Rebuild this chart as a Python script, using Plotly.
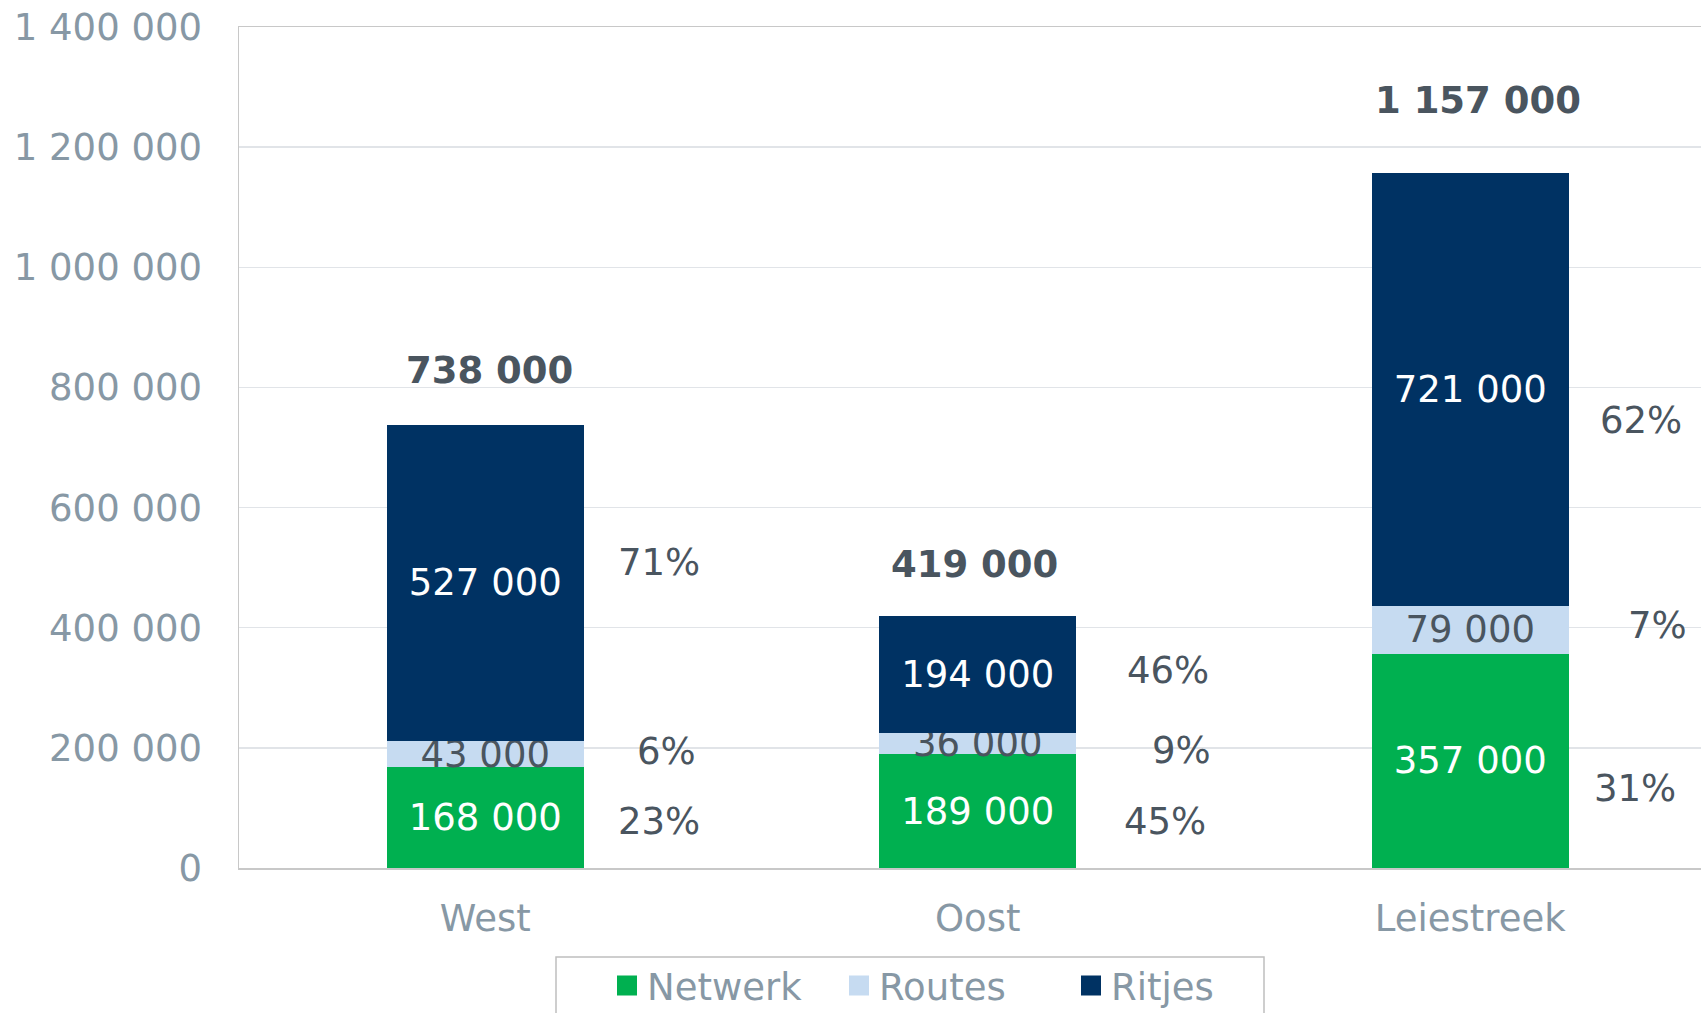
import plotly.graph_objects as go

# ---- data ----
categories = ["West", "Oost", "Leiestreek"]
netwerk = [168000, 189000, 357000]
routes = [43000, 36000, 79000]
ritjes = [527000, 194000, 721000]
totals = [738000, 419000, 1157000]
series_names = ["Netwerk", "Routes", "Ritjes"]
y_ticks = [0, 200000, 400000, 600000, 800000, 1000000, 1200000, 1400000]

# ---- style ----
COL_NET = "#00B050"
COL_ROU = "#C6DBF1"
COL_RIT = "#003263"
TICK_COL = "#8798A5"
DARK = "#4A555F"
FONT = "DejaVu Sans"
FS = 37

def fmt(v):
    return f"{v:,}".replace(",", " ")

fig = go.Figure()
series = [(netwerk, COL_NET, "white"), (routes, COL_ROU, DARK), (ritjes, COL_RIT, "white")]
for name, (vals, col, tcol) in zip(series_names, series):
    fig.add_trace(go.Bar(
        x=categories, y=vals, name=name, marker=dict(color=col, line=dict(width=0)),
        width=0.4, text=[fmt(v) for v in vals], textposition="inside",
        insidetextanchor="middle", textangle=0, constraintext="none",
        textfont=dict(family=FONT, size=FS, color=tcol),
        showlegend=False, hoverinfo="skip", cliponaxis=False,
    ))
    fig.add_trace(go.Scatter(
        x=[None], y=[None], mode="markers", name=name,
        marker=dict(symbol="square", size=16, color=col, line=dict(width=4, color=col)),
        showlegend=True,
    ))

# total labels
total_shift = [54, 52, 72]
total_xshift = [4, -3, 8]
for i, (c, t) in enumerate(zip(categories, totals)):
    fig.add_annotation(x=c, y=t, text=f"<b>{fmt(t)}</b>", showarrow=False,
                       yanchor="middle", yshift=total_shift[i], xshift=total_xshift[i],
                       font=dict(family=FONT, size=FS, color=DARK))

# percentage labels: offsets per category in order (netwerk, routes, ritjes)
pct_dx = [[174, 181, 174], [187, 204, 190], [165, 187, 171]]
pct_dy = [[-4, 3, 20], [-10, -7, 4], [-28, 4, -31]]
for i, c in enumerate(categories):
    segs = [
        (netwerk[i], netwerk[i] / 2),
        (routes[i], netwerk[i] + routes[i] / 2),
        (ritjes[i], netwerk[i] + routes[i] + ritjes[i] / 2),
    ]
    for k, (v, mid) in enumerate(segs):
        pct = round(v / totals[i] * 100)
        fig.add_annotation(x=c, y=mid, text=f"{pct}%", showarrow=False,
                           xshift=pct_dx[i][k], yshift=pct_dy[i][k],
                           font=dict(family=FONT, size=FS, color=DARK))

W, H = 1701, 1013
ML, MT, MB = 239, 27, 145
PW, PH = W - ML, H - MT - MB

def px_x(px):
    return (px - ML) / PW

def px_y(py):
    return (H - MB - py) / PH

# legend frame
fig.add_shape(type="rect", xref="paper", yref="paper",
              x0=px_x(556), x1=px_x(1264), y0=px_y(957), y1=px_y(1040),
              line=dict(color="#BFBFBF", width=1.5), fillcolor="rgba(0,0,0,0)")

fig.update_layout(
    width=W, height=H,
    margin=dict(l=ML, r=0, t=MT, b=MB, pad=0, autoexpand=False),
    barmode="stack",
    plot_bgcolor="white", paper_bgcolor="white",
    separators=". ",
    font=dict(family=FONT, size=FS, color=TICK_COL),
    legend=dict(orientation="h", traceorder="normal",
                xref="container", yref="container",
                x=(626 - 19) / W, xanchor="left",
                y=1 - 955 / H, yanchor="top",
                borderwidth=0, bgcolor="rgba(0,0,0,0)",
                entrywidth=187, entrywidthmode="pixels",
                font=dict(family=FONT, size=FS, color=TICK_COL),
                itemsizing="trace"),
    hovermode=False,
)
fig.update_xaxes(
    type="category", range=[-0.5, -0.5 + PW / 492.5],
    showline=True, linecolor="#C8C8C8", linewidth=1.5, mirror=True,
    showgrid=False, ticks="", ticklabelstandoff=17, automargin=False,
    tickfont=dict(family=FONT, size=FS, color=TICK_COL),
)
fig.update_yaxes(
    range=[0, 1400000], tickvals=y_ticks, ticktext=[fmt(v) for v in y_ticks],
    showline=True, linecolor="#C8C8C8", linewidth=1.5,
    showgrid=True, gridcolor="#E1E4E8", gridwidth=1.5, zeroline=False,
    ticks="", ticklabelstandoff=28, automargin=False,
    tickfont=dict(family=FONT, size=FS, color=TICK_COL),
)

fig.write_html(
    "out.html",
    config={"displayModeBar": False, "staticPlot": True},
    post_script="document.body.style.margin='0px'; document.body.style.overflow='hidden';",
)
